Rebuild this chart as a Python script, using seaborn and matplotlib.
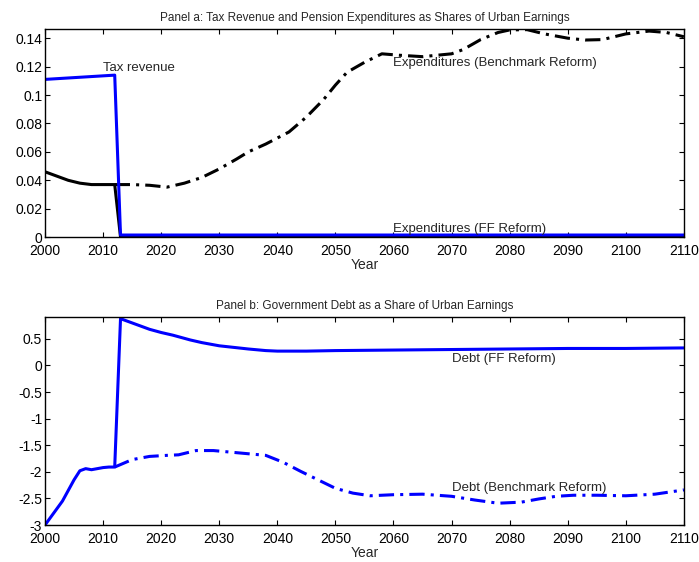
import numpy as np
import matplotlib
matplotlib.use('Agg')
import matplotlib.pyplot as plt
import seaborn as sns

sns.set_style('ticks')
plt.rcParams['font.family'] = ['Liberation Sans', 'DejaVu Sans']

# ── Panel a data ──────────────────────────────────────────────────────────────
tax_years = [2000, 2012, 2013, 2110]
tax_vals = [0.111, 0.114, 0.0015, 0.0015]

exp_ff_years = [2000, 2002, 2004, 2006, 2008, 2010, 2012, 2013, 2110]
exp_ff_vals = [0.046, 0.043, 0.040, 0.038, 0.037, 0.037, 0.037, 0.0, 0.0]

exp_bm_years = [2012, 2015, 2018, 2021, 2024, 2027, 2030, 2033, 2035, 2038,
                2042, 2045, 2048, 2050, 2052, 2055, 2058, 2061, 2065, 2070,
                2072, 2075, 2078, 2080, 2083, 2086, 2090, 2093, 2096, 2100,
                2104, 2107, 2110]
exp_bm_vals = [0.037, 0.037, 0.0365, 0.0352, 0.038, 0.042, 0.048, 0.055, 0.060,
               0.0655, 0.074, 0.0845, 0.097, 0.107, 0.116, 0.123, 0.129, 0.128,
               0.127, 0.129, 0.132, 0.139, 0.144, 0.1458, 0.146, 0.143, 0.140,
               0.1387, 0.139, 0.143, 0.145, 0.144, 0.141]

# ── Panel b data ──────────────────────────────────────────────────────────────
debt_ff_years = [2000, 2001, 2002, 2003, 2004, 2005, 2006, 2007, 2008, 2009,
                 2010, 2011, 2012, 2013, 2015, 2018, 2020, 2022, 2025, 2027,
                 2030, 2035, 2038, 2040, 2045, 2050, 2060, 2070, 2080, 2090,
                 2100, 2110]
debt_ff_vals = [-3.0, -2.85, -2.7, -2.55, -2.35, -2.15, -1.98, -1.94, -1.96,
                -1.94, -1.92, -1.91, -1.91, 0.88, 0.80, 0.68, 0.62, 0.57, 0.48,
                0.43, 0.37, 0.31, 0.28, 0.27, 0.27, 0.28, 0.29, 0.30, 0.31,
                0.32, 0.32, 0.33]

debt_bm_years = [2012, 2015, 2018, 2021, 2023, 2026, 2029, 2032, 2035, 2038,
                 2041, 2044, 2047, 2050, 2053, 2056, 2060, 2065, 2070, 2074,
                 2078, 2082, 2085, 2088, 2091, 2095, 2100, 2105, 2110]
debt_bm_vals = [-1.91, -1.77, -1.71, -1.69, -1.68, -1.60, -1.60, -1.63, -1.66,
                -1.69, -1.82, -1.99, -2.15, -2.31, -2.40, -2.45, -2.43, -2.42,
                -2.46, -2.53, -2.59, -2.57, -2.51, -2.46, -2.44, -2.44, -2.45,
                -2.42, -2.34]

x_ticks = list(range(2000, 2111, 10))
ya_ticks = [0, 0.02, 0.04, 0.06, 0.08, 0.1, 0.12, 0.14]
ya_labels = ['0', '0.02', '0.04', '0.06', '0.08', '0.1', '0.12', '0.14']
yb_ticks = [-3, -2.5, -2, -1.5, -1, -0.5, 0, 0.5]
yb_labels = ['-3', '-2.5', '-2', '-1.5', '-1', '-0.5', '0', '0.5']

blue = '#0000ff'
dashdot = (0, (5, 2, 1, 2))
lw = 2.2

fig = plt.figure(figsize=(6.99, 5.62), dpi=100)
ax_a = fig.add_axes([0.0644, 0.578, 0.914, 0.370])
ax_b = fig.add_axes([0.0644, 0.0658, 0.914, 0.370])


def style_axis(ax):
    for s in ax.spines.values():
        s.set_visible(True)
        s.set_linewidth(1.0)
        s.set_color('black')
    ax.tick_params(direction='in', top=True, right=True, length=3.5,
                   width=0.8, labelsize=10, colors='black')
    ax.tick_params(axis='x', pad=5)
    ax.tick_params(axis='y', pad=2)
    ax.set_xlim(2000, 2110)
    ax.set_xticks(x_ticks)
    ax.set_xlabel('Year', fontsize=10, labelpad=0)
    ax.set_ylabel('')
    ax.grid(False)


# ── Panel a ───────────────────────────────────────────────────────────────────
sns.lineplot(x=exp_ff_years, y=exp_ff_vals, ax=ax_a, color='black', lw=lw,
             estimator=None, sort=False)
sns.lineplot(x=exp_bm_years, y=exp_bm_vals, ax=ax_a, color='black', lw=lw,
             linestyle=dashdot, estimator=None, sort=False)
sns.lineplot(x=tax_years, y=tax_vals, ax=ax_a, color=blue, lw=lw,
             estimator=None, sort=False)
style_axis(ax_a)
ax_a.set_ylim(0, 0.1463)
ax_a.set_yticks(ya_ticks)
ax_a.set_yticklabels(ya_labels)
ax_a.set_title('Panel a: Tax Revenue and Pension Expenditures as Shares of Urban Earnings',
               fontsize=8.5, pad=6)
ax_a.text(2010, 0.119, 'Tax revenue', fontsize=9.5, va='center', ha='left')
ax_a.text(2060, 0.1225, 'Expenditures (Benchmark Reform)', fontsize=9.5,
          va='center', ha='left')
ax_a.text(2060, 0.0056, 'Expenditures (FF Reform)', fontsize=9.5,
          va='center', ha='left')

# ── Panel b ───────────────────────────────────────────────────────────────────
sns.lineplot(x=debt_ff_years, y=debt_ff_vals, ax=ax_b, color=blue, lw=lw,
             estimator=None, sort=False)
sns.lineplot(x=debt_bm_years, y=debt_bm_vals, ax=ax_b, color=blue, lw=lw,
             linestyle=dashdot, estimator=None, sort=False)
style_axis(ax_b)
ax_b.set_ylim(-3, 0.91)
ax_b.set_yticks(yb_ticks)
ax_b.set_yticklabels(yb_labels)
ax_b.set_title('Panel b: Government Debt as a Share of Urban Earnings',
               fontsize=8.5, pad=6)
ax_b.text(2070, 0.13, 'Debt (FF Reform)', fontsize=9.5, va='center', ha='left')
ax_b.text(2070, -2.31, 'Debt (Benchmark Reform)', fontsize=9.5,
          va='center', ha='left')

fig.savefig('out.png', dpi=100)
